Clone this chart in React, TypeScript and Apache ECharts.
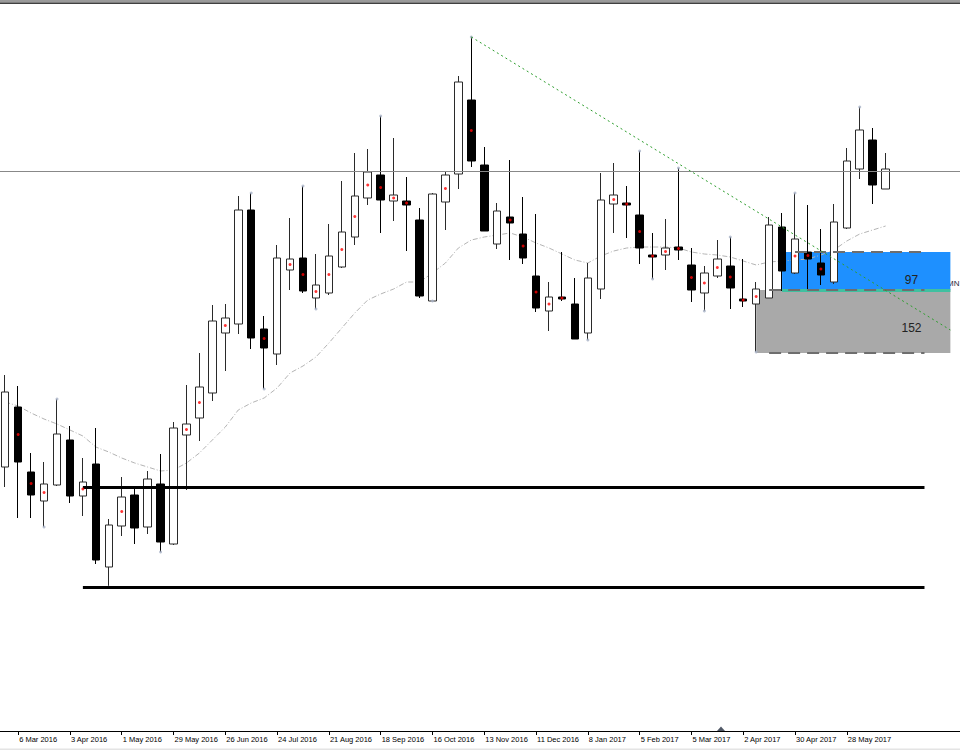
import React, { useEffect, useRef } from "react";
import * as echarts from "echarts";

// Weekly bars (MT4 style). Future, empty weeks after the last bar keep the chart shift.
const weeks = [
  "28 Feb 2016", "6 Mar 2016", "13 Mar 2016", "20 Mar 2016", "27 Mar 2016",
  "3 Apr 2016", "10 Apr 2016", "17 Apr 2016", "24 Apr 2016",
  "1 May 2016", "8 May 2016", "15 May 2016", "22 May 2016", "29 May 2016",
  "5 Jun 2016", "12 Jun 2016", "19 Jun 2016", "26 Jun 2016",
  "3 Jul 2016", "10 Jul 2016", "17 Jul 2016", "24 Jul 2016", "31 Jul 2016",
  "7 Aug 2016", "14 Aug 2016", "21 Aug 2016", "28 Aug 2016",
  "4 Sep 2016", "11 Sep 2016", "18 Sep 2016", "25 Sep 2016",
  "2 Oct 2016", "9 Oct 2016", "16 Oct 2016", "23 Oct 2016", "30 Oct 2016",
  "6 Nov 2016", "13 Nov 2016", "20 Nov 2016", "27 Nov 2016",
  "4 Dec 2016", "11 Dec 2016", "18 Dec 2016", "25 Dec 2016",
  "1 Jan 2017", "8 Jan 2017", "15 Jan 2017", "22 Jan 2017", "29 Jan 2017",
  "5 Feb 2017", "12 Feb 2017", "19 Feb 2017", "26 Feb 2017",
  "5 Mar 2017", "12 Mar 2017", "19 Mar 2017", "26 Mar 2017",
  "2 Apr 2017", "9 Apr 2017", "16 Apr 2017", "23 Apr 2017", "30 Apr 2017",
  "7 May 2017", "14 May 2017", "21 May 2017", "28 May 2017",
  "4 Jun 2017", "11 Jun 2017", "18 Jun 2017",
  "25 Jun 2017", "2 Jul 2017", "9 Jul 2017", "16 Jul 2017", "23 Jul 2017", "30 Jul 2017",
];

const opens = [
  1.166, 1.181, 1.16475, 1.1575, 1.1615, 1.17275, 1.15875, 1.16675, 1.141, 1.15125,
  1.159, 1.151, 1.16175, 1.14675, 1.174, 1.17825, 1.1845, 1.1995, 1.20175, 1.23025,
  1.2005, 1.19425, 1.21525, 1.21825, 1.20825, 1.2095, 1.216, 1.2235, 1.23325, 1.239,
  1.2325, 1.2325, 1.22775, 1.2075, 1.23225, 1.23925, 1.25775, 1.2415, 1.22175, 1.2285,
  1.22425, 1.21375, 1.205, 1.2085, 1.20675, 1.1995, 1.2105, 1.23175, 1.232, 1.229,
  1.219, 1.219, 1.221, 1.2165, 1.2095, 1.21375, 1.21625, 1.208, 1.20675, 1.20825,
  1.226, 1.2145, 1.21975, 1.217, 1.21225, 1.22575, 1.2405, 1.24775, 1.2355,
];
const closes = [
  1.18475, 1.16725, 1.159, 1.16175, 1.17425, 1.15875, 1.16225, 1.14275, 1.1515, 1.1585,
  1.15075, 1.163, 1.14725, 1.17575, 1.17675, 1.186, 1.2025, 1.20325, 1.23025, 1.19825,
  1.19575, 1.21825, 1.218, 1.21, 1.2115, 1.21875, 1.22475, 1.23375, 1.23975, 1.23275,
  1.234, 1.2315, 1.20875, 1.23425, 1.239, 1.26225, 1.2425, 1.225, 1.23, 1.227,
  1.21825, 1.20575, 1.2085, 1.208, 1.198, 1.21325, 1.23275, 1.234, 1.2315, 1.22075,
  1.2185, 1.22075, 1.22025, 1.21025, 1.2145, 1.218, 1.21075, 1.2075, 1.2105, 1.2265,
  1.215, 1.223, 1.218, 1.214, 1.22725, 1.2425, 1.25025, 1.2365, 1.2405,
];
const lows = [
  1.161, 1.15325, 1.15325, 1.151, 1.16125, 1.157, 1.15375, 1.14175, 1.136, 1.14875,
  1.14675, 1.14925, 1.14475, 1.1465, 1.16025, 1.1725, 1.1825, 1.19, 1.19925, 1.1955,
  1.1855, 1.1915, 1.21025, 1.2095, 1.2055, 1.209, 1.21575, 1.2215, 1.2315, 1.2245,
  1.2275, 1.22, 1.20825, 1.2075, 1.22525, 1.2355, 1.241, 1.225, 1.2205, 1.21775,
  1.21675, 1.20475, 1.2, 1.2075, 1.198, 1.19775, 1.208, 1.2245, 1.22325, 1.21675,
  1.213, 1.21525, 1.21775, 1.20725, 1.205, 1.21325, 1.2055, 1.206, 1.19475, 1.20825,
  1.21, 1.21425, 1.21, 1.2115, 1.21175, 1.2255, 1.238, 1.23175, 1.2355,
];
const highs = [
  1.189, 1.18625, 1.1695, 1.16725, 1.183, 1.17625, 1.16825, 1.17575, 1.153, 1.1635,
  1.16075, 1.165, 1.16925, 1.17725, 1.1865, 1.1945, 1.2065, 1.20675, 1.23375, 1.2345,
  1.20375, 1.2215, 1.22825, 1.23625, 1.21925, 1.22675, 1.2375, 1.2445, 1.2455, 1.25375,
  1.24825, 1.2385, 1.23075, 1.2345, 1.23975, 1.26375, 1.2735, 1.246, 1.232, 1.24275,
  1.2335, 1.22925, 1.21225, 1.21975, 1.21325, 1.217, 1.2395, 1.242, 1.23625, 1.245,
  1.2245, 1.228, 1.24075, 1.22075, 1.21625, 1.22275, 1.2235, 1.218, 1.21225, 1.2285,
  1.2295, 1.2345, 1.2315, 1.2255, 1.23175, 1.24575, 1.256, 1.25075, 1.2445,
];

// Moving average as drawn on the chart (read per bar)
const maValues = [
  1.18225, 1.18125, 1.1795, 1.178, 1.17675, 1.17525, 1.17375, 1.171, 1.16975, 1.16825,
  1.167, 1.166, 1.165, 1.16525, 1.167, 1.1695, 1.17275, 1.176, 1.18025, 1.182,
  1.18325, 1.18575, 1.1895, 1.19125, 1.1935, 1.197, 1.20075, 1.2045, 1.20775, 1.20925,
  1.2105, 1.21225, 1.21225, 1.2145, 1.217, 1.22075, 1.22275, 1.2235, 1.224, 1.2245,
  1.2235, 1.222, 1.22075, 1.21925, 1.21775, 1.217, 1.21875, 1.22, 1.22075, 1.221,
  1.221, 1.221, 1.22075, 1.21975, 1.21925, 1.219, 1.2185, 1.2175, 1.2165, 1.21725,
  1.2175, 1.21775, 1.218, 1.219, 1.22025, 1.2225, 1.22425, 1.22525, 1.22625,
];

// Bars marked with a red dot at the body middle
const redDotBars = [
  1, 2, 3, 6, 9, 14, 15, 17, 20, 22, 23, 24, 25, 26, 27, 28, 29, 30, 31, 34, 36,
  39, 40, 41, 42, 43, 47, 48, 49, 50, 51, 52, 53, 54, 55, 56, 57, 58, 61, 62, 63,
];
// Fractal markers
const fractalUpBars = [4, 19, 23, 29, 36, 49, 52, 56, 61, 66];
const fractalDownBars = [3, 8, 12, 20, 24, 33, 45, 50, 54, 58];

// Horizontal levels and objects
const priceLine = 1.2405;
const supportLevels = [1.161, 1.136];
const supportFrom = 6;
const supportTo = 71;
const trendStart = 36;
const trendEnd = 73;
const trendEndPrice = 1.20025;
const boxTop = 1.21975;
const boxMid = 1.21025;
const boxBottom = 1.1945;
const blueFrom = 60;
const grayFrom = 58;
const boxTo = 73;
const boxLabels: [string, number, number][] = [
  ["97", 70, 1.21275],
  ["152", 70, 1.20075],
];

const yMin = 1.1;
const yMax = 1.28175;
const lastBar = opens.length - 1;

const labelInterval = (index: number) => index <= lastBar && (index - 1) % 4 === 0;

export default function App() {
  const ref = useRef<HTMLDivElement>(null);

  useEffect(() => {
    if (!ref.current) return;
    const chart = echarts.init(ref.current, undefined, { renderer: "svg" });

    const candleData = opens.map((o, i) => [o, closes[i], lows[i], highs[i]]);
    const seg = (a: number, b: number, v: number, style: any) => [
      { coord: [a, v], lineStyle: style },
      { coord: [b, v] },
    ];
    const dashStyle = { color: "#6e6e6e", width: 2, type: [12, 7] };

    chart.setOption({
      animation: false,
      backgroundColor: "#ffffff",
      grid: {
        left: -1.27,
        right: -9.8,
        top: 4,
        bottom: 19,
        containLabel: false,
        outerBoundsMode: "none",
      },
      xAxis: {
        type: "category",
        data: weeks,
        boundaryGap: true,
        axisLine: { show: true, lineStyle: { color: "#000", width: 1 } },
        axisTick: {
          show: true,
          alignWithLabel: true,
          interval: labelInterval,
          length: 4,
          lineStyle: { color: "#000" },
        },
        axisLabel: {
          show: true,
          interval: labelInterval,
          align: "left",
          margin: 4,
          padding: [0, 0, 0, 1],
          fontSize: 7.5,
          fontFamily: "Liberation Sans",
          color: "#000",
        },
        splitLine: { show: false },
      },
      yAxis: {
        type: "value",
        min: yMin,
        max: yMax,
        show: false,
        splitLine: { show: false },
      },
      graphic: [
        { type: "rect", shape: { x: 0, y: 0, width: 960, height: 2 }, style: { fill: "#9a9a9a" }, silent: true },
        { type: "rect", shape: { x: 0, y: 2.6, width: 960, height: 1.2 }, style: { fill: "#000" }, silent: true },
        { type: "rect", shape: { x: 0, y: 748.5, width: 960, height: 1.5 }, style: { fill: "#e4e4e4" }, silent: true },
        {
          type: "polygon",
          shape: { points: [[717, 731], [725, 731], [721, 726.5]] },
          style: { fill: "#505866" },
          silent: true,
        },
        {
          type: "text",
          x: 947,
          y: 283,
          style: {
            text: "MN",
            fill: "#2a2a40",
            fontSize: 8,
            fontFamily: "Liberation Sans",
            verticalAlign: "middle",
            align: "left",
          },
          silent: true,
        },
      ],
      series: [
        {
          name: "boxes",
          type: "line",
          data: [],
          z: 1,
          silent: true,
          markArea: {
            silent: true,
            data: [
              [
                { coord: [grayFrom, boxMid], itemStyle: { color: "#a9a9a9" } },
                { coord: [boxTo, boxBottom] },
              ],
              [
                { coord: [blueFrom, boxTop], itemStyle: { color: "#1e90ff" } },
                { coord: [boxTo, boxMid] },
              ],
            ],
          },
          markLine: {
            silent: true,
            symbol: ["none", "none"],
            label: { show: false },
            data: [
              seg(blueFrom, boxTo, boxMid, { color: "#40c0a0", width: 3, type: "solid" }),
              seg(61, 71, boxTop, dashStyle),
              seg(59, 71, boxMid, dashStyle),
              seg(59, 71, boxBottom, dashStyle),
            ],
          },
          markPoint: {
            silent: true,
            symbol: "circle",
            symbolSize: 1,
            itemStyle: { color: "rgba(0,0,0,0)" },
            label: {
              show: true,
              position: "inside",
              color: "#222",
              fontSize: 12,
              fontFamily: "Liberation Sans",
            },
            data: boxLabels.map(([t, x, y]) => ({
              coord: [x, y],
              label: { formatter: t },
            })),
          },
        },
        {
          name: "MA",
          type: "line",
          data: maValues,
          z: 2,
          silent: true,
          symbol: "none",
          showSymbol: false,
          lineStyle: { color: "#b4b4b4", width: 1, type: [5, 2, 1, 2] },
        },
        {
          name: "Weekly",
          type: "candlestick",
          data: candleData,
          z: 3,
          barWidth: 8,
          silent: true,
          itemStyle: {
            color: "#ffffff",
            color0: "#000000",
            borderColor: "#2a2a2a",
            borderColor0: "#000000",
            borderWidth: 1,
          },
        },
        {
          name: "levels",
          type: "line",
          data: [],
          z: 4,
          silent: true,
          markLine: {
            silent: true,
            symbol: ["none", "none"],
            label: { show: false },
            data: [
              { yAxis: priceLine, lineStyle: { color: "#888888", width: 1, type: "solid" } },
              ...supportLevels.map((v) =>
                seg(supportFrom, supportTo, v, { color: "#000", width: 3, type: "solid" })
              ),
              [
                { coord: [trendStart, highs[trendStart]], lineStyle: { color: "#2e9e2e", width: 1, type: [2, 3] } },
                { coord: [trendEnd, trendEndPrice] },
              ],
            ],
          },
        },
        {
          name: "fractals",
          type: "scatter",
          z: 4,
          silent: true,
          symbolSize: 3,
          itemStyle: { color: "#a8b2c6" },
          data: [
            ...fractalUpBars.map((i) => [i, highs[i]]),
            ...fractalDownBars.map((i) => [i, lows[i]]),
          ],
        },
        {
          name: "mid",
          type: "scatter",
          z: 5,
          silent: true,
          symbolSize: 3,
          itemStyle: { color: "#ff0000" },
          data: redDotBars.map((i) => [i, (opens[i] + closes[i]) / 2]),
        },
      ],
    });

    return () => chart.dispose();
  }, []);

  return (
    <div
      ref={ref}
      style={{ position: "fixed", left: 0, top: 0, width: 960, height: 750, background: "#fff" }}
    />
  );
}
